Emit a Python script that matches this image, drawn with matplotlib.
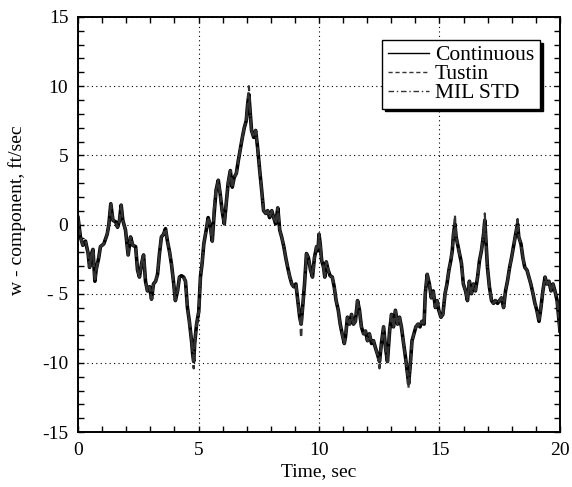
import matplotlib
matplotlib.use("Agg")
import matplotlib.pyplot as plt
from matplotlib.ticker import MultipleLocator, FixedFormatter, FixedLocator

plt.rcParams['font.family'] = ['Liberation Serif', 'DejaVu Serif']

# time, sec
time_s = [
    0.00, 0.10, 0.20, 0.31, 0.42, 0.48, 0.56, 0.62, 0.70, 0.75, 0.86, 0.93,
    1.07, 1.21, 1.28, 1.36, 1.45, 1.56, 1.64, 1.72, 1.79, 1.86, 1.97,
    2.08, 2.18, 2.27, 2.39, 2.47, 2.55, 2.64, 2.72, 2.80, 2.88, 2.97,
    3.05, 3.13, 3.22, 3.30, 3.38, 3.46, 3.55, 3.63, 3.71, 3.80, 3.88, 3.96,
    4.04, 4.13, 4.21, 4.29, 4.38, 4.46, 4.54, 4.62, 4.71, 4.76, 4.80, 4.84, 4.92,
    5.01, 5.08, 5.15, 5.22, 5.32, 5.40, 5.48, 5.57, 5.65, 5.73, 5.82, 5.90, 5.98,
    6.07, 6.15, 6.23, 6.32, 6.40, 6.48, 6.57, 6.65, 6.73, 6.82, 6.90, 6.98,
    7.04, 7.09, 7.15, 7.20, 7.29, 7.37, 7.45, 7.54, 7.62, 7.70, 7.79, 7.87, 7.95,
    8.04, 8.12, 8.20, 8.29, 8.37, 8.45, 8.54, 8.62, 8.70, 8.79, 8.87, 8.95,
    9.04, 9.12, 9.20, 9.26, 9.31, 9.40, 9.48, 9.56, 9.65, 9.73, 9.81, 9.90, 9.96,
    10.00, 10.05, 10.11, 10.19, 10.24, 10.30, 10.38, 10.46, 10.55, 10.63, 10.71,
    10.80, 10.88, 10.96, 11.05, 11.10, 11.18, 11.27, 11.35, 11.43, 11.51, 11.60,
    11.68, 11.76, 11.85, 11.93, 12.01, 12.09, 12.18, 12.26, 12.34, 12.43, 12.51,
    12.59, 12.68, 12.76, 12.84, 12.93, 13.01, 13.09, 13.17, 13.26, 13.34, 13.42,
    13.51, 13.59, 13.67, 13.72, 13.78, 13.86, 13.94, 14.02, 14.11, 14.19, 14.27,
    14.36, 14.41, 14.49, 14.58, 14.66, 14.74, 14.83, 14.90, 14.97,
    15.06, 15.14, 15.23, 15.31, 15.39, 15.47, 15.53, 15.58, 15.64, 15.69, 15.75,
    15.83, 15.91, 15.99, 16.08, 16.16, 16.24, 16.33, 16.41, 16.49, 16.58, 16.66,
    16.74, 16.83, 16.88, 16.94, 16.99, 17.07, 17.16, 17.24, 17.32, 17.41, 17.49,
    17.57, 17.66, 17.74, 17.82, 17.91, 17.99, 18.07, 18.16, 18.24, 18.29, 18.38,
    18.46, 18.54, 18.63, 18.71, 18.79, 18.88, 18.96, 19.04, 19.13, 19.21, 19.29,
    19.38, 19.46, 19.54, 19.63, 19.71, 19.79, 19.88, 19.96, 20.00,
]

# w - component, ft/sec, continuous model
w_continuous = [
    0.5, -0.9, -1.5, -1.2, -2.1, -3.1, -2.1, -1.8, -4.1, -3.3, -2.4, -1.6,
    -1.4, -0.7, 0.0, 1.5, 0.3, 0.2, -0.2, 0.3, 1.4, 0.3, -0.4,
    -2.2, -0.9, -1.5, -1.6, -3.3, -3.8, -2.8, -2.2, -4.1, -4.8, -4.5,
    -5.4, -4.3, -4.1, -3.6, -2.1, -0.9, -0.7, -0.3, -1.2, -2.0, -2.9, -4.1,
    -5.5, -4.8, -3.8, -3.7, -3.8, -4.1, -6.0, -7.0, -8.4, -9.4, -9.9, -8.6, -7.2,
    -6.3, -3.8, -2.8, -1.4, -0.4, 0.5, 0.0, -1.2, 0.8, 2.5, 3.2, 2.2, 1.0,
    0.05, 1.5, 3.0, 3.9, 2.7, 3.4, 3.7, 4.6, 5.4, 6.3, 7.0, 7.5,
    8.7, 9.4, 8.0, 6.8, 6.3, 6.8, 5.6, 3.9, 2.5, 1.0, 0.8, 1.0, 0.5,
    1.0, 0.5, 0.05, 1.2, -0.4, -0.9, -1.6, -2.4, -3.1, -3.8, -4.3, -4.5,
    -4.3, -5.5, -6.7, -7.2, -6.2, -4.3, -2.1, -2.4, -3.3, -3.8, -2.4, -1.6, -1.9,
    -0.7, -1.4, -2.6, -3.1, -3.8, -2.7, -3.3, -3.7, -3.8, -4.5, -5.5,
    -6.2, -7.2, -7.9, -8.6, -8.1, -6.7, -7.2, -6.5, -7.2, -7.0, -5.5,
    -6.2, -7.4, -7.9, -7.7, -8.4, -7.9, -8.6, -8.4, -8.9, -9.4, -9.9,
    -8.6, -7.4, -8.9, -9.9, -7.7, -6.5, -7.4, -6.2, -7.2, -6.7, -7.4,
    -8.6, -9.6, -10.8, -11.5, -10.3, -8.4, -7.9, -7.4, -7.2, -7.4, -7.0,
    -7.2, -5.0, -3.6, -4.3, -5.3, -4.8, -6.0, -5.5, -6.2,
    -6.7, -6.5, -5.0, -4.3, -3.3, -2.6, -1.9, -0.7, 0.05, -0.9, -1.4,
    -2.1, -2.8, -4.3, -4.8, -5.5, -4.1, -5.0, -4.3, -4.8, -3.8, -2.6,
    -1.9, -0.7, 0.3, -1.6, -3.1, -4.5, -5.5, -5.7, -5.5, -5.7, -5.5,
    -5.3, -6.0, -4.8, -4.1, -3.1, -2.4, -1.6, -0.7, 0.05, -0.9, -1.4,
    -2.4, -3.1, -3.3, -3.8, -4.3, -5.0, -5.7, -6.2, -7.0, -6.0, -4.8,
    -3.8, -4.3, -4.1, -4.8, -4.3, -4.8, -5.5, -7.0, -7.7,
]

# the discrete models sit on the continuous trace except at a few spikes
tustin_spikes = {7.09: 10.0, 9.26: -8.2, 15.64: 0.7, 4.80: -10.4, 13.72: -11.8}
milstd_spikes = {7.09: 9.0, 16.88: 0.8, 12.51: -10.4, 18.24: 0.4, 5.65: 1.6}

w_tustin = [tustin_spikes.get(t, w) for t, w in zip(time_s, w_continuous)]
w_milstd = [milstd_spikes.get(t, w) for t, w in zip(time_s, w_continuous)]

y_tick_vals = [-15, -10, -5, 0, 5, 10, 15]
y_tick_text = ['-15', '-10', '- 5', '0', '5', '10', '15']

fig = plt.figure(figsize=(5.72, 4.87), dpi=100)
ax = fig.add_axes([0.1364, 0.1129, 0.8426, 0.8522])

ax.plot(time_s, w_continuous, '-', color='black', lw=2.6, label='Continuous')
ax.plot(time_s, w_tustin, '--', color='#333333', lw=1.6, dashes=(3, 2), label='Tustin')
ax.plot(time_s, w_milstd, '-.', color='#333333', lw=1.6, dashes=(4, 2, 1, 2), label='MIL STD')

ax.set_xlim(0, 20)
ax.set_ylim(-15, 15)
ax.xaxis.set_major_locator(MultipleLocator(5))
ax.xaxis.set_minor_locator(MultipleLocator(1))
ax.yaxis.set_major_locator(FixedLocator(y_tick_vals))
ax.yaxis.set_major_formatter(FixedFormatter(y_tick_text))
ax.yaxis.set_minor_locator(MultipleLocator(1))
ax.tick_params(which='both', direction='in', top=True, right=True,
               length=4, width=1.0, labelsize=14)
ax.tick_params(axis='x', pad=7)
ax.tick_params(axis='y', pad=7)
ax.grid(True, which='major', color='black', lw=0.8, linestyle=(0, (1, 3)))
for s in ax.spines.values():
    s.set_linewidth(1.4)

ax.set_xlabel('Time, sec', fontsize=14, labelpad=3)
ax.set_ylabel('w - component, ft/sec', fontsize=14)
ax.yaxis.set_label_coords(-0.108, 0.535)

leg = ax.legend(loc='upper right', bbox_to_anchor=(0.958, 0.945), fontsize=15.5,
                fancybox=False, shadow={'color': 'black', 'alpha': 1},
                framealpha=1, edgecolor='black', handlelength=1.9,
                handletextpad=0.3, labelspacing=-0.05, borderpad=0.25,
                borderaxespad=0)
leg.get_frame().set_linewidth(1.0)
for line in leg.get_lines():
    line.set_linewidth(1.0)

fig.savefig('out.png', dpi=100)
